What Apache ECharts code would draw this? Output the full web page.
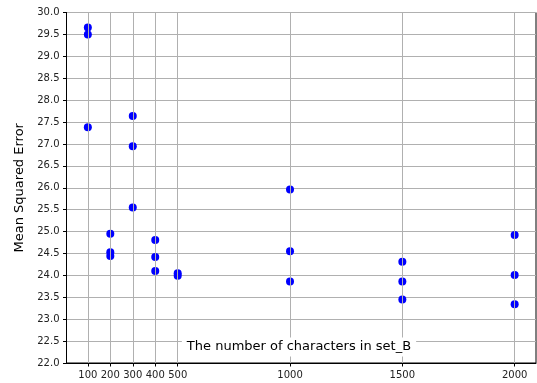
<!DOCTYPE html>
<html>
<head>
<meta charset="utf-8">
<script src="https://cdn.jsdelivr.net/npm/echarts@6/dist/echarts.min.js"></script>
<style>html,body{margin:0;padding:0;background:#fff}#c{width:537px;height:383px}</style>
</head>
<body>
<div id="c"></div>
<script>
const xTicks = [100, 200, 300, 400, 500, 1000, 1500, 2000];
const xValues = [100, 100, 100, 200, 200, 200, 300, 300, 300, 400, 400, 400, 500, 500, 1000, 1000, 1000, 1500, 1500, 1500, 2000, 2000, 2000];
const mseValues = [29.66, 29.50, 27.38, 24.95, 24.53, 24.44, 27.64, 26.95, 25.55, 24.81, 24.42, 24.10, 24.05, 23.99, 25.96, 24.55, 23.86, 24.31, 23.86, 23.45, 24.92, 24.01, 23.34];
const xLabel = 'The number of characters in set_B';
const yLabel = 'Mean Squared Error';

const font = 'DejaVu Sans';
const chart = echarts.init(document.getElementById('c'), null, {renderer: 'canvas'});
chart.setOption({
  animation: false,
  grid: {left: 66.5, right: 1, top: 12.5, bottom: 20, containLabel: false, outerBoundsMode: 'none', show: true, borderColor: '#000', borderWidth: 1, backgroundColor: 'transparent'},
  xAxis: {
    type: 'value', min: 5, max: 2095,
    axisLine: {show: true, onZero: false, lineStyle: {color: '#000', width: 1}},
    axisTick: {show: true, length: 3.5, customValues: xTicks, lineStyle: {color: '#000'}},
    axisLabel: {customValues: xTicks, fontFamily: font, fontSize: 10, color: '#222', margin: 7, formatter: v => String(v)},
    splitLine: {show: false}
  },
  yAxis: {
    type: 'value', min: 22, max: 30, interval: 0.5,
    name: yLabel, nameLocation: 'middle', nameGap: 39, nameRotate: 90,
    nameTextStyle: {fontFamily: font, fontSize: 13, color: '#000'},
    axisLine: {show: true, onZero: false, lineStyle: {color: '#000', width: 1}},
    axisTick: {show: true, length: 3.5, lineStyle: {color: '#000'}},
    axisLabel: {fontFamily: font, fontSize: 10, color: '#222', margin: 7, formatter: v => v.toFixed(1)},
    splitLine: {show: true, lineStyle: {color: '#b0b0b0', width: 1}}
  },
  graphic: [{
    type: 'text', z: 10,
    x: 299, y: 347,
    style: {
      text: xLabel, fontFamily: font, fontSize: 13, fill: '#000',
      align: 'center', verticalAlign: 'middle',
      backgroundColor: '#fff', padding: [3, 5, 3, 5]
    }
  }],
  series: [
    {
      type: 'line', data: [], z: 1, silent: true,
      markLine: {
        silent: true, symbol: 'none', animation: false,
        label: {show: false},
        lineStyle: {color: '#b0b0b0', width: 1, type: 'solid'},
        data: xTicks.map(t => ({xAxis: t}))
      }
    },
    {
      type: 'scatter', z: 3,
      data: xValues.map((x, i) => [x, mseValues[i]]),
      symbol: 'circle', symbolSize: 8,
      itemStyle: {color: '#0000ff', opacity: 1}
    }
  ]
});
</script>
</body>
</html>
